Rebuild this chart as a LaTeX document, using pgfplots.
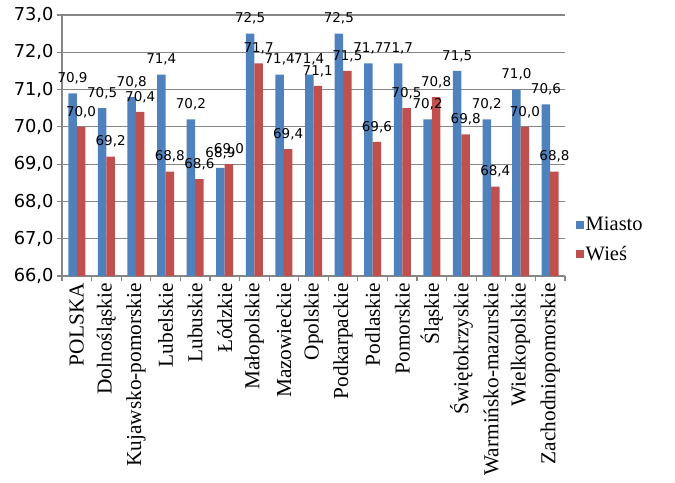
\documentclass[border=0pt]{standalone}
\usepackage{pgfplots}
\pgfplotsset{compat=1.18}
\usepackage{fontspec}
\setmainfont{Liberation Serif}
\newfontfamily\dv{DejaVu Sans}
\definecolor{mblue}{HTML}{4F81BD}
\definecolor{mred}{HTML}{C0504D}
\definecolor{gridc}{HTML}{868686}
\begin{document}
\begin{tikzpicture}
\begin{axis}[
  at={(0,0)}, anchor=south west,
  width=503bp, height=261bp, scale only axis,
  ybar=0pt, bar width=8.5bp,
  xmin=-0.5, xmax=16.5, ymin=66, ymax=73,
  ytick={66,67,...,73},
  /pgf/number format/assume math mode=true,
  yticklabel style={font=\dv\fontsize{17.8bp}{20bp}\selectfont, /pgf/number format/.cd, fixed, fixed zerofill, precision=1, use comma},
  ymajorgrids, grid style={gridc, line width=1.2bp},
  axis x line*=bottom, axis y line*=left,
  axis line style={gridc, line width=1.2bp},
  xtick={0,...,16},
  xticklabels={POLSKA,Dolnośląskie,Kujawsko-pomorskie,Lubelskie,Lubuskie,Łódzkie,Małopolskie,Mazowieckie,Opolskie,Podkarpackie,Podlaskie,Pomorskie,Śląskie,Świętokrzyskie,Warmińsko-mazurskie,Wielkopolskie,Zachodniopomorskie},
  x tick label style={rotate=90, anchor=east, font=\fontsize{21.3bp}{24bp}\selectfont, inner sep=2bp},
  major x tick style={draw=none},
  minor xtick={-0.5,0.5,...,16.5},
  minor x tick style={gridc, line width=1.2bp},
  tick align=outside,
  minor tick length=5bp,
  major y tick style={gridc, line width=1.2bp},
  major tick length=5bp,
  nodes near coords={\pgfmathprintnumber[fixed,fixed zerofill,precision=1,use comma]{\pgfplotspointmeta}},
  nodes near coords style={font=\dv\fontsize{13.5bp}{16bp}\selectfont, text=black, inner sep=0pt, anchor=south, yshift=9bp},
  legend style={draw=none, fill=none, at={(1.015,0.14)}, anchor=west, font=\fontsize{20.5bp}{24bp}\selectfont, row sep=10bp, legend cell align=left},
  legend image code/.code={\fill[#1] (0bp,-4bp) rectangle (8bp,4bp);},
]
\addplot[fill=mblue, draw=none] coordinates {(0,70.9) (1,70.5) (2,70.8) (3,71.4) (4,70.2) (5,68.9) (6,72.5) (7,71.4) (8,71.4) (9,72.5) (10,71.7) (11,71.7) (12,70.2) (13,71.5) (14,70.2) (15,71.0) (16,70.6)};
\addplot[fill=mred, draw=none] coordinates {(0,70.0) (1,69.2) (2,70.4) (3,68.8) (4,68.6) (5,69.0) (6,71.7) (7,69.4) (8,71.1) (9,71.5) (10,69.6) (11,70.5) (12,70.8) (13,69.8) (14,68.4) (15,70.0) (16,68.8)};
\legend{Miasto,Wieś}
\end{axis}
\pgfresetboundingbox
\path (-62bp,-207bp) rectangle (613bp,276bp);
\end{tikzpicture}
\end{document}
